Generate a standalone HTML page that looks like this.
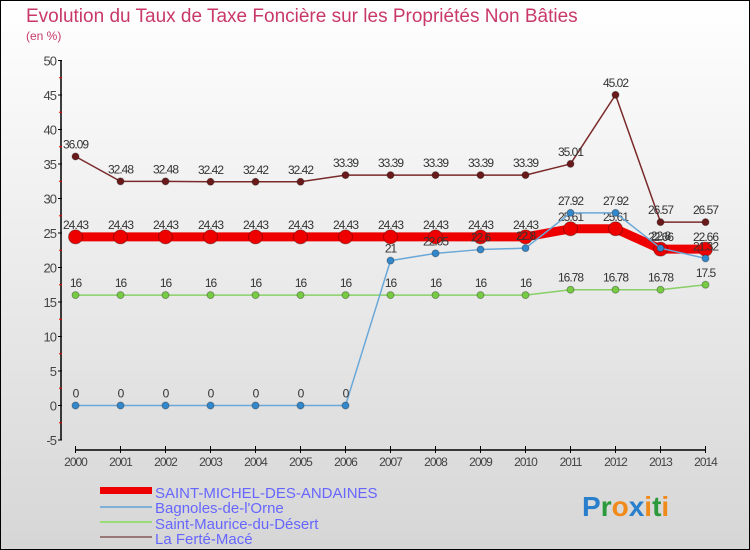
<!DOCTYPE html>
<html><head><meta charset="utf-8"><style>
body{margin:0;width:750px;height:550px;overflow:hidden;font-family:"Liberation Sans",sans-serif}
#c{position:absolute;left:0;top:0;width:748px;height:548px;border:1px solid #000;background:linear-gradient(#ffffff,#d6d6d6)}
</style></head><body>
<div id="c">
<svg id="s" width="750" height="550" style="position:absolute;left:-1px;top:-1px">
<text x="26" y="22" font-size="19" fill="#c8386a">Evolution du Taux de Taxe Foncière sur les Propriétés Non Bâties</text>
<text x="26" y="40" font-size="12" fill="#c8386a">(en %)</text>
<g id="axes"></g><g id="series"></g>
<g>
<rect x="100" y="487" width="52" height="7" fill="#e00"/>
<text x="155" y="498" font-size="15" fill="#6666ff">SAINT-MICHEL-DES-ANDAINES</text>
<line x1="100" y1="507" x2="152" y2="507" stroke="#7fb0d8" stroke-width="2"/>
<text x="155" y="513" font-size="15" fill="#6666ff">Bagnoles-de-l'Orne</text>
<line x1="100" y1="522" x2="152" y2="522" stroke="#99dd77" stroke-width="2"/>
<text x="155" y="529" font-size="15" fill="#6666ff">Saint-Maurice-du-Désert</text>
<line x1="100" y1="537" x2="152" y2="537" stroke="#997777" stroke-width="2"/>
<text x="155" y="544" font-size="15" fill="#6666ff">La Ferté-Macé</text>
</g>
<text x="582" y="516" font-size="28" font-weight="bold"><tspan fill="#2a7fcc">P</tspan><tspan fill="#2a9a3a">r</tspan><tspan fill="#f08a1a">o</tspan><tspan fill="#2a7fcc">x</tspan><tspan fill="#f08a1a">i</tspan><tspan fill="#2a9a3a">t</tspan><tspan fill="#f08a1a">i</tspan></text>
</svg></div>
<script>
const years=[2000,2001,2002,2003,2004,2005,2006,2007,2008,2009,2010,2011,2012,2013,2014];
const yTicks=[-5,0,5,10,15,20,25,30,35,40,45,50];
const stMichel=[24.43,24.43,24.43,24.43,24.43,24.43,24.43,24.43,24.43,24.43,24.43,25.61,25.61,22.66,22.66];
const bagnoles=[0,0,0,0,0,0,0,21,22.05,22.6,22.8,27.92,27.92,22.8,21.32];
const stMaurice=[16,16,16,16,16,16,16,16,16,16,16,16.78,16.78,16.78,17.5];
const laFerte=[36.09,32.48,32.48,32.42,32.42,32.42,33.39,33.39,33.39,33.39,33.39,35.01,45.02,26.57,26.57];
const NS="http://www.w3.org/2000/svg";
const X=i=>75.5+i*(705.5-75.5)/(years.length-1);
const Y=v=>405.5-v*6.9;
function mk(t,a,p){const e=document.createElementNS(NS,t);for(const k in a)e.setAttribute(k,a[k]);p.appendChild(e);return e;}
const ax=document.getElementById('axes');
const yl=mk('line',{x1:61,y1:Y(50),x2:61,y2:Y(-5),stroke:'#000','stroke-width':1.5},ax);


yTicks.forEach((v,k)=>{
 mk('line',{x1:58,y1:Y(v),x2:62,y2:Y(v),stroke:'#000'},ax);
 if(k<yTicks.length-1) mk('line',{x1:59,y1:Y(v+2.5),x2:62,y2:Y(v+2.5),stroke:'#e00'},ax);
 const t=mk('text',{x:56,y:Y(v)+5,'font-size':13,fill:'#444','text-anchor':'end','letter-spacing':'-1'},ax);t.textContent=v;
 
 
});
const xl=mk('line',{x1:75,y1:450,x2:706,y2:450,stroke:'#000','stroke-width':1.5},ax);


years.forEach((y,i)=>{
 mk('line',{x1:X(i),y1:446,x2:X(i),y2:453,stroke:'#000'},ax);
 const t=mk('text',{x:X(i),y:466,'font-size':12,fill:'#444','text-anchor':'middle','letter-spacing':'-1'},ax);t.textContent=y;
 
 
});
const sg=document.getElementById('series');
function series(vals,name,color,dot,w,r){
 const g=mk('g',{},sg);
 
 
 const pl=mk('polyline',{points:vals.map((v,i)=>X(i)+','+Y(v)).join(' '),fill:'none',stroke:color,'stroke-width':w,'stroke-linejoin':'round'},g);
 
 
 vals.forEach((v,i)=>{
  const c=mk('circle',{cx:X(i),cy:Y(v),r:r,fill:dot,stroke:'rgba(0,0,0,0.3)'},g);
  
  
  const t=mk('text',{x:X(i),y:Y(v)-8,'font-size':12,fill:'#333','text-anchor':'middle','letter-spacing':'-1'},g);t.textContent=v;
  
  
 });
}
series(laFerte,'la-ferte-mace','#7a2a2a','#6a1a1a',1.5,3.5);
series(stMaurice,'saint-maurice','#88d066','#77cc44',1.5,3.5);
series(stMichel,'saint-michel','#ee0000','#ee0000',9,7);
series(bagnoles,'bagnoles','#6aa8d8','#3388cc',1.5,3.5);
</script>
</body></html>
